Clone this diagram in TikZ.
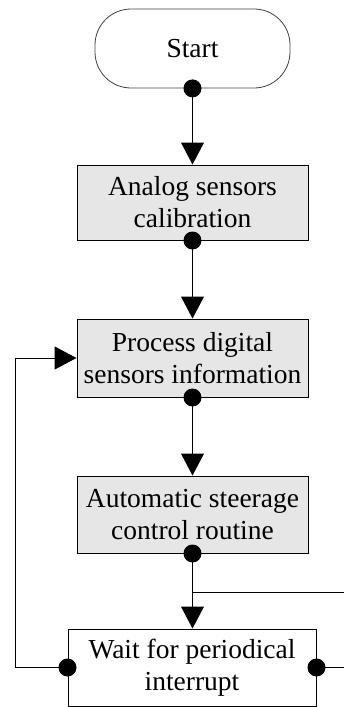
\documentclass[tikz,border=0pt]{standalone}
\usepackage{fontspec}
\setmainfont{Liberation Serif}
\usetikzlibrary{arrows.meta}
\definecolor{boxgray}{HTML}{E6E6E6}
\definecolor{edgegray}{HTML}{404040}
\begin{document}
\begin{tikzpicture}[x=1pt,y=-1pt,
  every node/.style={inner sep=0pt, font=\fontsize{27.5}{32}\selectfont, align=center},
  procbox/.style={draw=black, line width=1pt, fill=boxgray, minimum width=231pt},
  waitbox/.style={draw=black, line width=1pt, fill=white, minimum width=248pt, minimum height=77pt},
  terminal/.style={draw=edgegray, line width=0.8pt, rounded corners=36pt, minimum width=195pt, minimum height=79pt},
  flow/.style={line width=1pt, -{Triangle[width=23pt,length=22pt]}},
  wire/.style={line width=1pt},
  joint/.style={fill=black, circle, minimum size=18pt, inner sep=0pt}
]
\useasboundingbox (0,0) rectangle (344,707);

% the chain of steps
\node[terminal] (start) at (192.5,48.5) {Start};
\node[procbox, minimum height=75pt] (calib) at (192.5,202.5) {Analog sensors\\calibration};
\node[procbox, minimum height=78pt] (digital) at (192.5,358) {Process digital\\sensors information};
\node[procbox, minimum height=77pt] (steer) at (192.5,514.5) {Automatic steerage\\control routine};
\node[waitbox] (wait) at (192,667.5) {Wait for periodical\\interrupt};

% helper points for the loop lines
\coordinate (lx) at (15,0);
\coordinate (rx) at (345,0);
\coordinate (junc) at (192.5,592);

% straight flow
\draw[flow] (start.south) -- (calib.north);
\draw[flow] (calib.south) -- (digital.north);
\draw[flow] (digital.south) -- (steer.north);
\draw[flow] (steer.south) -- (steer.south |- wait.north);

% loop back from the wait box
\draw[flow] (wait.west) -- (wait.west -| lx) |- (digital.west);
\draw[wire] (wait.east) -- (wait.east -| rx);
\draw[wire] (junc) -- (junc -| rx);

% connection dots
\node[joint] (d1) at (start.south) {};
\node[joint] (d2) at (calib.south) {};
\node[joint] (d3) at (digital.south) {};
\node[joint] (d4) at (steer.south) {};
\node[joint] (d5) at (wait.west) {};
\node[joint] (d6) at (wait.east) {};
\end{tikzpicture}
\end{document}
